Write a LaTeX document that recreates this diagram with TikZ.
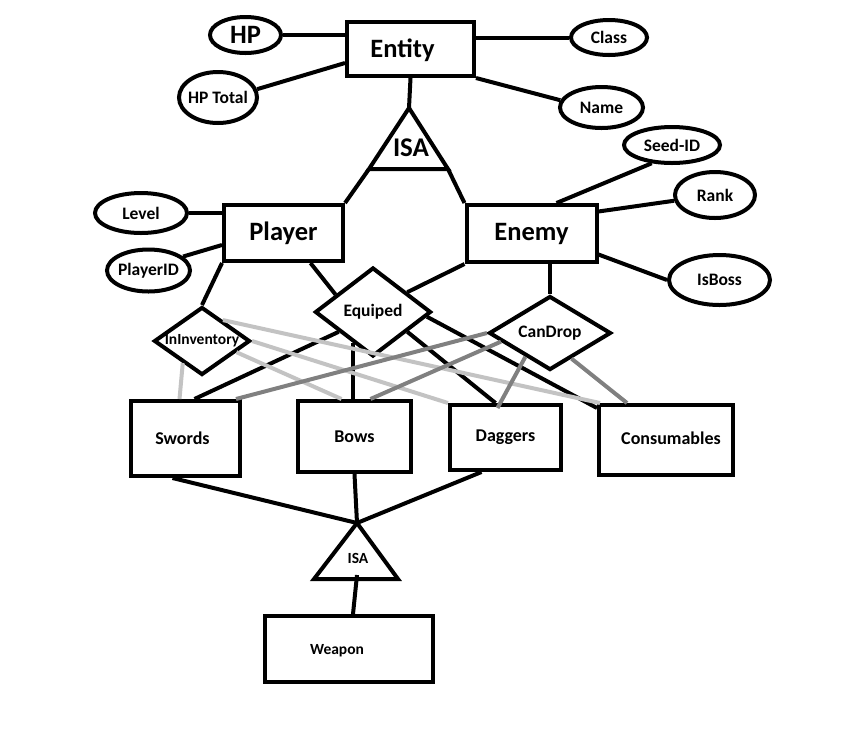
\documentclass[tikz,border=0pt]{standalone}
\usepackage{fontspec}
\setmainfont{Carlito}
\usetikzlibrary{shapes.geometric}

\definecolor{lightgrey}{RGB}{195,195,195}
\definecolor{darkgrey}{RGB}{128,128,128}

\newcommand{\lbl}[1]{\makebox[0pt]{#1}}

\tikzset{
    attr/.style={draw, ellipse, inner sep=0pt, font=\bfseries\fontsize{17.5}{17.5}\selectfont},
    entbox/.style={draw, rectangle, inner sep=0pt, font=\bfseries\fontsize{18}{18}\selectfont},
    rel/.style={draw, diamond, inner sep=0pt, font=\bfseries\fontsize{17.5}{17.5}\selectfont},
    bigtext/.style={font=\bfseries\fontsize{26.5}{26.5}\selectfont},
    light/.style={draw=lightgrey},
    dark/.style={draw=darkgrey}
}

\begin{document}
\begin{tikzpicture}[x=1pt, y=-1pt, line width=4pt]
                \useasboundingbox (0,0) rectangle (851,740);

                \node[entbox, minimum width=127pt, minimum height=54pt,
                      label={[bigtext, xshift=-8pt, yshift=-1pt]center:Entity}] (entity) at (410.5,49) {};
                \node[entbox, bigtext, minimum width=119pt, minimum height=56pt] (player) at (283.5,233) {\raisebox{-2pt}{Player}};
                \node[entbox, bigtext, minimum width=130pt, minimum height=57pt] (enemy) at (531.5,233.5) {Enemy};

                \node[attr, bigtext, minimum width=71pt, minimum height=36pt] (hp) at (245.5,35) {\lbl{HP}};
                \node[attr, minimum width=76pt, minimum height=35pt] (class) at (609,37.5) {\lbl{Class}};
                \node[attr, minimum width=78pt, minimum height=51pt] (hptotal) at (218,97.5) {\lbl{HP Total}};
                \node[attr, minimum width=83pt, minimum height=41pt] (name) at (601.5,107.5) {\lbl{Name}};
                \node[attr, minimum width=96pt, minimum height=36pt] (seedid) at (672,145) {\lbl{Seed-ID}};
                \node[attr, minimum width=80pt, minimum height=46pt] (rank) at (715,195) {\lbl{Rank}};
                \node[attr, minimum width=101pt, minimum height=50pt] (isboss) at (719.5,280) {\lbl{IsBoss}};
                \node[attr, minimum width=92pt, minimum height=40pt] (level) at (141,213) {\lbl{Level}};
                \node[attr, minimum width=83pt, minimum height=42pt] (playerid) at (148.5,270.5) {\lbl{PlayerID}};

                \draw (hp.east) -- (hp.east -| entity.west);
                \draw (class.west) -- (class.west -| entity.east);
                \draw (hptotal.12) -- ([yshift=-14pt]entity.west);
                \draw (entity.south east) -- (name.170);
                \draw (level.east) -- (level.east -| player.west);
                \draw (playerid.22) -- ([yshift=-12pt]player.west);
                \draw ([xshift=25pt]enemy.north) -- (seedid.222);
                \draw ([yshift=22pt]enemy.east) -- (rank.188);
                \draw ([yshift=-21pt]enemy.east) -- (isboss.west);

                \coordinate (isaTop) at (409,108);
                \coordinate (isaL) at (369,169);
                \coordinate (isaR) at (448,169);
                \draw (isaTop) -- (isaL) -- (isaR) -- cycle;
                \node[font=\bfseries\fontsize{27}{27}\selectfont] (isa) at (411,148) {ISA};
                \draw (entity.south) -- (isaTop);
                \draw (isaL) -- (player.north east);
                \draw (isaR) -- (enemy.north west);

                \node[rel, minimum width=96pt, minimum height=68pt, font=\bfseries\fontsize{15.5}{15.5}\selectfont] (inv) at (202,341) {\lbl{InInventory}};
                \node[rel, minimum width=116pt, minimum height=89pt] (equip) at (373,312) {\lbl{Equiped}};
                \node[rel, minimum width=122pt, minimum height=74pt] (candrop) at (550,333) {\lbl{CanDrop}};

                \draw (player.south west) -- (inv.north);
                \draw ([xshift=27pt]player.south) -- (equip.155);
                \draw (enemy.south west) -- (equip.30);
                \draw (candrop.north |- enemy.south) -- (candrop.north);

                \node[entbox, minimum width=109pt, minimum height=75pt] (swords) at (185.5,438.5) {\hspace*{-6pt}Swords};
                \node[entbox, minimum width=113pt, minimum height=71pt] (bows) at (354.5,436.5) {\raisebox{-2pt}{Bows}};
                \node[entbox, minimum width=111pt, minimum height=65pt] (daggers) at (505.5,437.5) {Daggers};
                \node[entbox, minimum width=134pt, minimum height=70pt] (consumables) at (666,440) {\hspace*{10pt}\raisebox{3pt}{Consumables}};

                \draw (equip.210) -- ([xshift=9pt]swords.north);
                \draw (equip.238) -- (equip.238 |- bows.north);
                \draw (equip.330) -- ([xshift=-10pt]daggers.north);
                \draw (equip.-5) -- ([yshift=-5pt]consumables.north west);

                \draw[light] (inv.229) -- ([xshift=-6pt]swords.north);
                \draw[light] (inv.342) -- ([xshift=-13pt]bows.north);
                \draw[light] (inv.east) -- (daggers.north west);
                \draw[light] (inv.45) -- ([xshift=3pt]consumables.north west);

                \draw[dark] (candrop.west) -- ([xshift=-6pt]swords.north east);
                \draw[dark] (candrop.190) -- ([xshift=16pt]bows.north);
                \draw[dark] (candrop.224) -- ([xshift=-8pt, yshift=-5pt]daggers.north);
                \draw[dark] (candrop.310) -- ([xshift=-39pt]consumables.north);

                \coordinate (isbTop) at (357,523);
                \coordinate (isbL) at (314,579);
                \coordinate (isbR) at (398,579);
                \coordinate (isbIn) at (357,575);
                \draw (isbTop) -- (isbL) -- (isbR) -- cycle;
                \node[font=\bfseries\fontsize{15.5}{15.5}\selectfont] (isb) at (358,558) {ISA};

                \node[entbox, minimum width=168pt, minimum height=66pt,
                      label={[font=\bfseries\fontsize{15.5}{15.5}\selectfont, xshift=-12pt, yshift=-2pt]center:Weapon}] (weapon) at (349,649) {};

                \draw ([xshift=-13pt]swords.south) -- (isbTop);
                \draw (bows.south) -- (isbTop);
                \draw ([xshift=-24pt]daggers.south) -- (isbTop);
                \draw ([xshift=4pt]weapon.north) -- (isbIn);
            \end{tikzpicture}
\end{document}
